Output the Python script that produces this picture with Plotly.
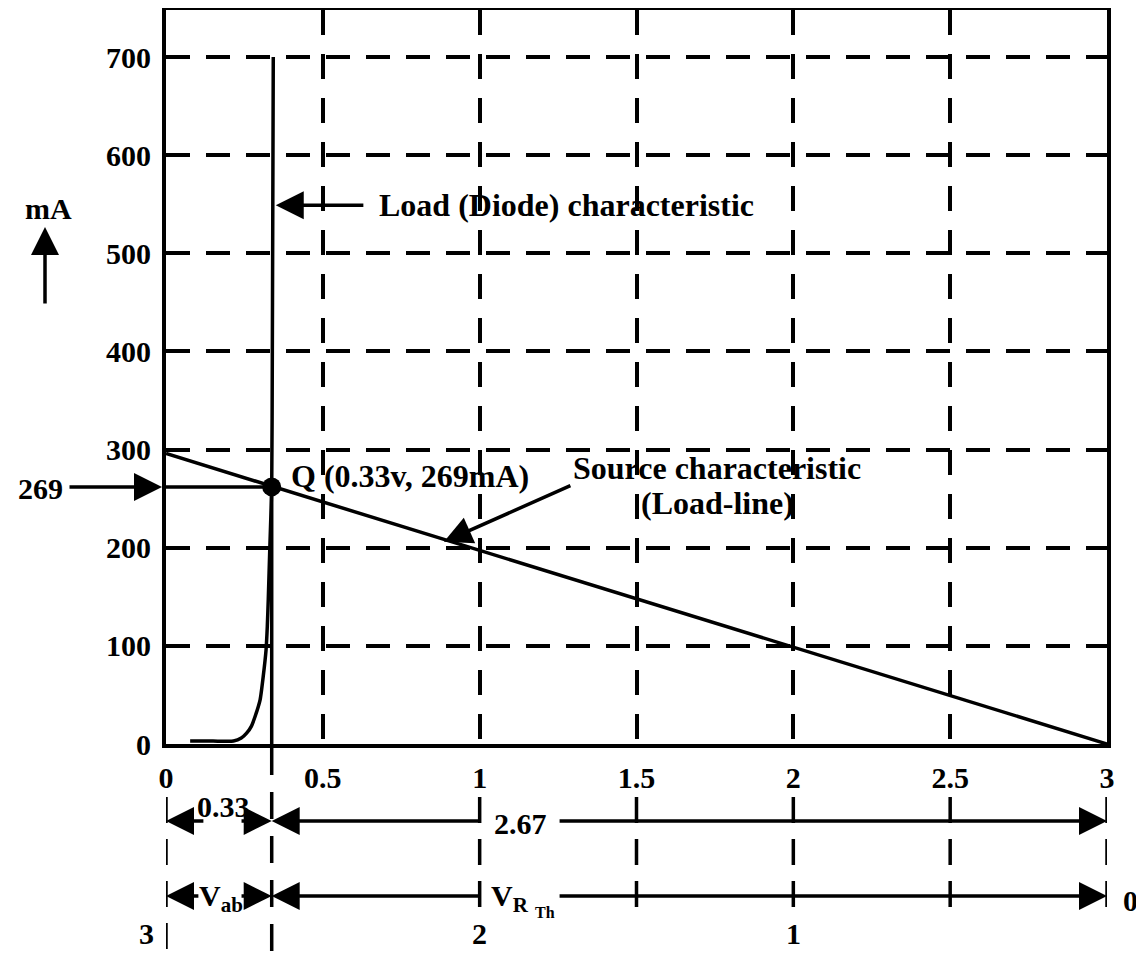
import plotly.graph_objects as go

W, H = 1144, 966
OFF = 8                      # the page body margin shifts the figure by 8px
WF, HF = W - OFF, H - OFF

# ---------------- data ----------------
x_ticks = [0, 0.5, 1, 1.5, 2, 2.5, 3]
x_tick_labels = ["0", "0.5", "1", "1.5", "2", "2.5", "3"]
y_ticks = [0, 100, 200, 300, 400, 500, 600, 700]
y_tick_labels = ["0", "100", "200", "300", "400", "500", "600", "700"]

# Load (diode) characteristic, V vs mA
diode_v = [0.077, 0.15, 0.215, 0.240, 0.257, 0.272, 0.284, 0.300, 0.310, 0.319,
           0.323, 0.326, 0.331, 0.337, 0.339, 0.340, 0.341, 0.342]
diode_i = [3, 3, 3, 6, 11, 18, 28, 45, 69, 96,
           120, 147, 200, 262, 400, 500, 600, 700]

# Source characteristic (load line)
load_v = [0, 3]
load_i = [296, 0]

# Operating point Q
q_v = 0.337
q_i = 262

# dimension rows below the axis
dim_marks = [0, 1, 1.5, 2, 2.5, 3]
vrth_pos = [0, 1, 2, 3]
vrth_labels = ["3", "2", "1", "0"]


# ---------------- helpers (window pixel -> paper) ----------------
def px(p):
    return (p - OFF) / WF


def py(p):
    return (H - p) / HF


FONT = "Liberation Serif"
TF = dict(family=FONT, size=30, color="black", weight="bold")

fig = go.Figure()

fig.add_trace(go.Scatter(x=load_v, y=load_i, mode="lines",
                         line=dict(color="black", width=3.5), hoverinfo="skip"))
fig.add_trace(go.Scatter(x=diode_v, y=diode_i, mode="lines",
                         line=dict(color="black", width=3.5, shape="spline",
                                   smoothing=0.5),
                         hoverinfo="skip"))
fig.add_trace(go.Scatter(x=[0, q_v, q_v], y=[q_i, q_i, 0], mode="lines",
                         line=dict(color="black", width=3.5), hoverinfo="skip"))
fig.add_trace(go.Scatter(x=[q_v], y=[q_i], mode="markers",
                         marker=dict(color="black", size=19), cliponaxis=False,
                         hoverinfo="skip"))

shapes = []
# vertical dashed projection of Q below the axis
shapes.append(dict(type="line", xref="x", yref="paper", x0=q_v, x1=q_v,
                   y0=py(748), y1=py(975),
                   line=dict(color="black", width=3.5, dash="27px,17px")))
# dimension marks
for xv in dim_marks:
    bottom = 950 if xv == 0 else 908
    shapes.append(dict(type="line", xref="x", yref="paper", x0=xv, x1=xv,
                       y0=py(797), y1=py(bottom),
                       line=dict(color="black", width=3.5, dash="26px,16px")))

ann = []
ARROW = dict(showarrow=True, arrowhead=2, arrowsize=1.6, arrowwidth=3.5,
             arrowcolor="black", standoff=0, text="")


def harrow(tip, tail, ypix):
    ann.append(dict(x=tip, y=py(ypix), xref="x", yref="paper",
                    ax=tail, ay=0, axref="x", ayref="pixel", **ARROW))


ROW1, ROW2 = 821, 896
for row, left_tail in [(ROW1, 0.124), (ROW2, 0.108)]:
    harrow(0, left_tail, row)
    harrow(q_v, 0.236, row)
    harrow(q_v, 1.0, row)
    harrow(3, 1.25, row)

# Load (Diode) arrow
ann.append(dict(x=0.350, y=549, xref="x", yref="y", ax=0.634, ay=549,
                axref="x", ayref="y", **ARROW))
# Source characteristic arrow
ann.append(dict(x=0.886, y=206, xref="x", yref="y", ax=1.294, ay=264,
                axref="x", ayref="y", **ARROW))
# 269 arrow
ann.append(dict(x=px(162), y=q_i, xref="paper", yref="y", ax=-94, ay=0, **ARROW))
# mA up arrow
ann.append(dict(x=px(45), y=py(227), xref="paper", yref="paper", ax=0, ay=78,
                **ARROW))


def label(text, xp, yp, xanchor="center", size=30):
    ann.append(dict(x=px(xp), y=py(yp), xref="paper", yref="paper", text=text,
                    showarrow=False, xanchor=xanchor, yanchor="middle",
                    font=dict(TF, size=size)))


label("mA", 48, 208)
label("269", 40, 488)
label("Load (Diode) characteristic", 377, 205, xanchor="left", size=32)
label("Q (0.33v, 269mA)", 289, 476, xanchor="left", size=32)
label("Source characteristic", 717, 468, size=32)
label("(Load-line)", 717, 503, size=32)
label("0.33", 223, 806)
label("2.67", 520, 823)
label("V<sub>ab</sub>", 221, 898)
label("V<sub>R</sub>", 510, 898)
label("Th", 545, 912, size=16)

for pos, lab in zip(vrth_pos, vrth_labels):
    if pos == 0:
        label(lab, 146, 933)
    elif pos == 3:
        label(lab, 1130, 900)
    else:
        label(lab, 166 + pos * 313.7, 933)

fig.update_layout(
    width=WF, height=HF,
    margin=dict(l=0, r=0, t=0, b=0, autoexpand=False),
    paper_bgcolor="white", plot_bgcolor="white",
    showlegend=False,
    shapes=shapes, annotations=ann,
    xaxis=dict(domain=[px(166), px(1107)], range=[0, 3],
               tickvals=x_ticks, ticktext=x_tick_labels, ticks="",
               ticklabelstandoff=4, tickfont=TF,
               showgrid=True, gridcolor="black", gridwidth=3.5,
               griddash="25px,19px", zeroline=False,
               showline=True, linecolor="black", linewidth=4, mirror=True),
    yaxis=dict(domain=[py(744), py(10)], range=[0, 748],
               tickvals=y_ticks, ticktext=y_tick_labels, ticks="",
               ticklabelstandoff=5, tickfont=TF,
               showgrid=True, gridcolor="black", gridwidth=3.5,
               griddash="24px,16px", zeroline=False,
               showline=True, linecolor="black", linewidth=4, mirror=True),
)

fig.write_html("out.html", config={"displayModeBar": False})
